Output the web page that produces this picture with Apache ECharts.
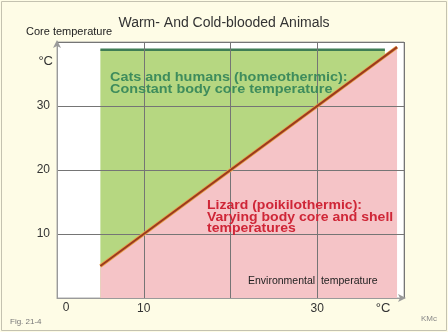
<!DOCTYPE html>
<html>
<head>
<meta charset="utf-8">
<script src="https://cdn.jsdelivr.net/npm/echarts@6/dist/echarts.min.js"></script>
<style>html,body{margin:0;padding:0;background:#fefce6;}#c{width:448px;height:332px;}</style>
</head>
<body>
<div id="c"></div>
<script>
// ---- data ----
const xRange = [0, 40];
const yRange = [0, 40];
const xTickLabels = {10: '10', 30: '30'};
const yTickLabels = {10: '10', 20: '20', 30: '30'};
// constant core temperature band (homeothermic)
const homeoX = [5, 37.8];
const homeoY = [38.8, 38.8];
// varying core temperature (poikilothermic): core = environment
const poikiloX = [5, 39.2];
const poikiloY = [5, 39.2];

const FONT = 'Liberation Sans, Arial, sans-serif';
const chart = echarts.init(document.getElementById('c'), null, {renderer: 'canvas'});
chart.setOption({
  backgroundColor: '#fefce6',
  animation: false,
  title: {
    text: 'Warm- And Cold-blooded Animals',
    left: 'center', top: 11,
    textStyle: {fontFamily: FONT, fontSize: 14, fontWeight: 'normal', color: '#333'}
  },
  grid: {left: 57, top: 42, right: 44, bottom: 34, show: true, backgroundColor: '#ffffff', borderColor: '#aaaaaa', borderWidth: 1},
  xAxis: {
    type: 'value', min: xRange[0], max: xRange[1], interval: 10, z: 5,
    axisLine: {show: true, lineStyle: {color: '#9a9a9a'}, symbol: ['none', 'arrow'], symbolSize: [6, 8], symbolOffset: [0, 2]},
    axisTick: {show: false},
    splitLine: {show: true, lineStyle: {color: '#757575', width: 1}},
    axisLabel: {margin: 5, fontFamily: FONT, fontSize: 12, color: '#333', formatter: v => xTickLabels[v] || ''}
  },
  yAxis: {
    type: 'value', min: yRange[0], max: yRange[1], interval: 10, z: 5,
    axisLine: {show: true, lineStyle: {color: '#9a9a9a'}, symbol: ['none', 'arrow'], symbolSize: [6, 8], symbolOffset: [0, 2]},
    axisTick: {show: false},
    splitLine: {show: true, lineStyle: {color: '#757575', width: 1}},
    axisLabel: {margin: 7, fontFamily: FONT, fontSize: 12, color: '#333', formatter: v => yTickLabels[v] || ''}
  },
  series: [
    {
      type: 'line', z: 1, symbol: 'none',
      data: homeoX.map((x, i) => [x, homeoY[i]]),
      lineStyle: {color: '#3f7d55', width: 2.5},
      areaStyle: {color: '#b6d781', opacity: 1, origin: 'start'}
    },
    {
      type: 'line', z: 2, symbol: 'none',
      data: poikiloX.map((x, i) => [x, poikiloY[i]]),
      lineStyle: {width: 0},
      areaStyle: {color: '#f5c4c7', opacity: 1, origin: 'start'}
    },
    {
      type: 'line', z: 6, symbol: 'none',
      data: poikiloX.map((x, i) => [x, poikiloY[i]]),
      lineStyle: {color: '#e9a24a', width: 3.5}
    },
    {
      type: 'line', z: 7, symbol: 'none',
      data: poikiloX.map((x, i) => [x, poikiloY[i]]),
      lineStyle: {color: '#9c3a1e', width: 2}
    }
  ],
  graphic: [
    {type: 'rect', z: -1, silent: true, shape: {x: 1.5, y: 1.5, width: 445, height: 329}, style: {fill: null, stroke: '#c4c2b0', lineWidth: 1}},
    {type: 'text', z: 100, x: 26, y: 32, style: {text: 'Core temperature', fontFamily: FONT, fontSize: 11, fill: '#222', textVerticalAlign: 'middle'}},
    {type: 'text', z: 100, x: 53, y: 61, style: {text: '°C', fontFamily: FONT, fontSize: 13, fill: '#333', textAlign: 'right', textVerticalAlign: 'middle'}},
    {type: 'text', z: 100, x: 66, y: 308, style: {text: '0', fontFamily: FONT, fontSize: 12, fill: '#333', textAlign: 'center', textVerticalAlign: 'middle'}},
    {type: 'text', z: 100, x: 383, y: 308, style: {text: '°C', fontFamily: FONT, fontSize: 13, fill: '#333', textAlign: 'center', textVerticalAlign: 'middle'}},
    {type: 'text', z: 100, x: 10, y: 322, style: {text: 'Fig. 21-4', fontFamily: FONT, fontSize: 8, fill: '#777', textVerticalAlign: 'middle'}},
    {type: 'text', z: 100, x: 421, y: 319, style: {text: 'KMc', fontFamily: FONT, fontSize: 8, fill: '#888', textVerticalAlign: 'middle'}},
    {type: 'text', z: 100, x: 110, y: 72, scaleX: 1.2, style: {text: 'Cats and humans (homeothermic):\nConstant body core temperature', fontFamily: FONT, fontSize: 12, fontWeight: 'bold', lineHeight: 12, fill: '#3e8c5c'}},
    {type: 'text', z: 100, x: 207, y: 200, scaleX: 1.14, style: {text: 'Lizard (poikilothermic):\nVarying body core and shell\ntemperatures', fontFamily: FONT, fontSize: 12.3, fontWeight: 'bold', lineHeight: 11.5, fill: '#cf2637'}},
    {type: 'text', z: 100, x: 248, y: 281, style: {text: 'Environmental  temperature', fontFamily: FONT, fontSize: 10.5, fill: '#222', textVerticalAlign: 'middle'}}
  ]
});
</script>
</body>
</html>
